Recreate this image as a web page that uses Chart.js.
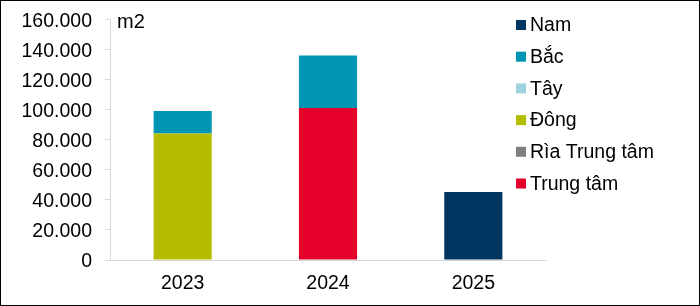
<!DOCTYPE html>
<html>
<head>
<meta charset="utf-8">
<script src="https://cdn.jsdelivr.net/npm/chart.js@4/dist/chart.umd.min.js"></script>
<style>
  html, body { margin: 0; padding: 0; background: #fff; }
  #wrap { width: 700px; height: 306px; position: relative; }
</style>
</head>
<body>
<div id="wrap"><canvas id="cvg" width="700" height="306"></canvas></div>
<script>
  var years = ["2023", "2024", "2025"];
  var seriesNames = ["Trung tâm", "Rìa Trung tâm", "Đông", "Tây", "Bắc", "Nam"];
  var trungTam    = [0, 101200, 0];
  var riaTrungTam = [0, 0, 0];
  var dong        = [84100, 0, 0];
  var tay         = [0, 0, 0];
  var bac         = [15100, 34900, 0];
  var nam         = [0, 0, 45200];
  var yTicks = [0, 20000, 40000, 60000, 80000, 100000, 120000, 140000, 160000];
  var colors = ["#e4002b", "#7f7f7f", "#b5bd00", "#9fd3de", "#0095b3", "#003660"];

  var values = [trungTam, riaTrungTam, dong, tay, bac, nam];
  var FONT = "'Liberation Sans', Arial, sans-serif";

  function fmt(v) {
    return String(v).replace(/\B(?=(\d{3})+(?!\d))/g, ".");
  }

  // legend, unit label and frame
  var extras = {
    id: "extras",
    afterDraw: function(chart) {
      var ctx = chart.ctx;
      ctx.save();
      ctx.font = "20px " + FONT;
      ctx.fillStyle = "#000";
      ctx.textBaseline = "middle";
      ctx.textAlign = "left";
      ctx.fillText("m2", 117, 22);

      ctx.font = "19.5px " + FONT;
      var ds = chart.data.datasets;
      for (var i = ds.length - 1, row = 0; i >= 0; i--, row++) {
        var y = 25 + row * 31.7;
        ctx.fillStyle = ds[i].backgroundColor;
        ctx.fillRect(516, y - 5, 10, 10);
        ctx.fillStyle = "#000";
        ctx.fillText(ds[i].label, 530, y + 1);
      }

      ctx.strokeStyle = "#000";
      ctx.lineWidth = 1;
      ctx.strokeRect(0.5, 0.5, 699, 305);
      ctx.restore();
    }
  };

  var datasets = [];
  for (var i = 0; i < seriesNames.length; i++) {
    datasets.push({
      label: seriesNames[i],
      data: values[i],
      backgroundColor: colors[i],
      borderWidth: 0,
      barPercentage: 0.4,
      categoryPercentage: 1
    });
  }

  var cv = document.getElementById("cvg");
  var myChart = new Chart(cv.getContext("2d"), {
    type: "bar",
    data: { labels: years, datasets: datasets },
    options: {
      responsive: false,
      animation: false,
      layout: { padding: { top: 19.5, right: 154, left: 0, bottom: 0 } },
      plugins: { legend: { display: false }, tooltip: { enabled: false } },
      scales: {
        x: {
          stacked: true,
          grid: { drawOnChartArea: false, drawTicks: false },
          border: { display: true, color: "#d9d9d9", width: 1 },
          ticks: { color: "#000", font: { family: FONT, size: 19.5 }, padding: 12 },
          afterFit: function(scale) {
            scale.height = 46;
            scale.paddingLeft = 0;
            scale.paddingRight = 0;
          }
        },
        y: {
          stacked: true,
          min: 0,
          max: 160000,
          afterBuildTicks: function(scale) {
            scale.ticks = yTicks.map(function(v) { return { value: v }; });
          },
          grid: { drawOnChartArea: false, drawTicks: true, tickLength: 5, color: "#d9d9d9" },
          border: { display: true, color: "#d9d9d9", width: 1 },
          ticks: {
            color: "#000",
            font: { family: FONT, size: 19.5 },
            padding: 13,
            labelOffset: 2,
            callback: function(v) { return fmt(v); }
          },
          afterFit: function(scale) {
            scale.width = 110;
            scale.paddingTop = 0;
            scale.paddingBottom = 0;
          }
        }
      }
    },
    plugins: [extras]
  });
</script>
</body>
</html>
